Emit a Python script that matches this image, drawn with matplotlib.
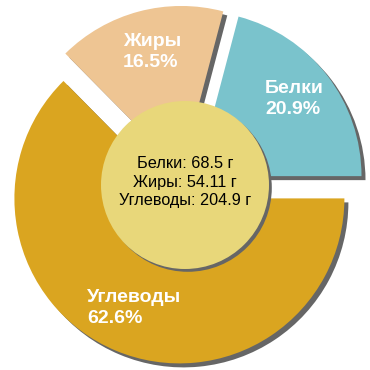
import matplotlib.pyplot as plt
from matplotlib.patches import Circle

# data
labels = ['Белки', 'Жиры', 'Углеводы']
grams = [68.5, 54.11, 204.9]
percents = [20.9, 16.5, 62.6]
colors = ['#7AC3CC', '#EEC593', '#DAA520']

# label placement (left edge x, block center y) in pixels
label_px = [(265, 99), (123, 52), (87, 308)]

plt.rcParams['font.family'] = ['Liberation Sans', 'DejaVu Sans']

fig = plt.figure(figsize=(3.7, 3.7), dpi=100)
ax = fig.add_axes([0, 0, 1, 1])
R = 165.0  # pie radius in px
lim = 185.0 / R

explode = [0.088] * 3
sh = 4.0 / R

# shadow
ax.pie(percents, explode=explode, colors=['#666666'] * 3, startangle=0,
       counterclock=True, center=(sh, -sh), radius=1.0,
       wedgeprops=dict(linewidth=0))
# slices
ax.pie(percents, explode=explode, colors=colors, startangle=0,
       counterclock=True, center=(0, 0), radius=1.0,
       wedgeprops=dict(linewidth=0))

ax.set_xlim(-lim, lim)
ax.set_ylim(-lim, lim)
ax.set_aspect('equal')
ax.axis('off')

# center circle with shadow
rc = 84.0 / R
ax.add_patch(Circle((sh * 0.7, -sh * 0.7), rc, color='#666666', lw=0, zorder=5))
ax.add_patch(Circle((0, 0), rc, color='#E8D77A', lw=0, zorder=6))

def px(x, y):
    return (x - 185) / R, (185 - y) / R

for name, p, (lx, ly) in zip(labels, percents, label_px):
    x, y = px(lx, ly)
    ax.text(x, y, f'{name}\n{p}%', color='white', fontsize=14, fontweight='bold',
            ha='left', va='center', linespacing=1.3, zorder=7)

center_text = '\n'.join(f'{n}: {g} г' for n, g in zip(labels, grams))
x, y = px(185, 182)
ax.text(x, y, center_text, color='black', fontsize=11.7, ha='center', va='center',
        linespacing=1.3, zorder=8)

fig.savefig('out.png', dpi=100)
